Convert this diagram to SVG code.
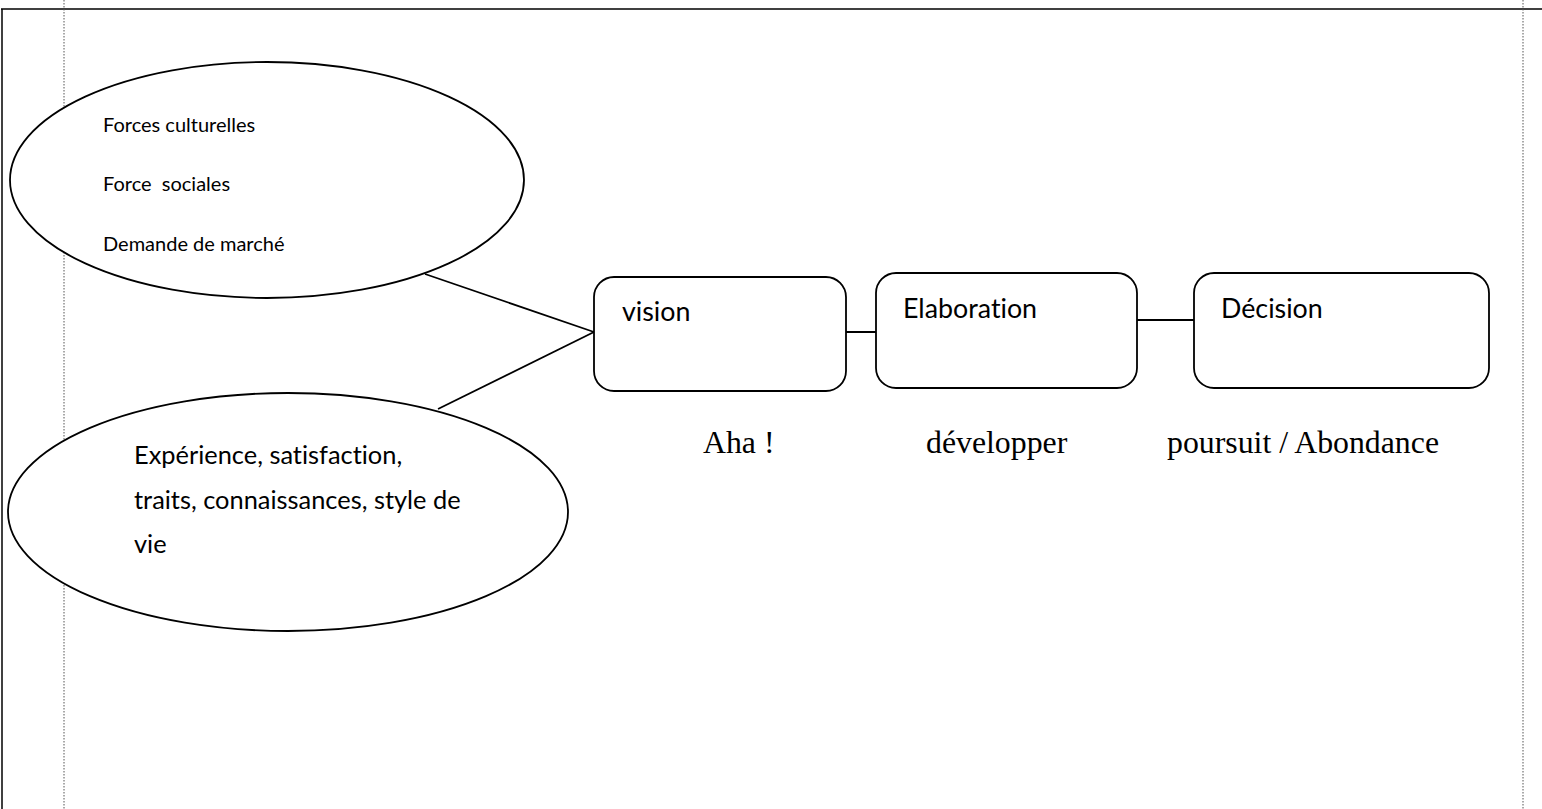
<svg xmlns="http://www.w3.org/2000/svg" width="1542" height="809" viewBox="0 0 1542 809">
  <style>
    .frame { stroke: #000; stroke-width: 1.5; fill: none; }
    .guide { stroke: #555; stroke-width: 1; stroke-dasharray: 1.5 1.5; fill: none; }
    .shape { stroke: #000; stroke-width: 1.8; fill: #fff; }
    .link { stroke: #000; stroke-width: 1.8; fill: none; }
    .sans { font-family: Lato, "Open Sans", "Liberation Sans", sans-serif; fill: #000; font-variant-ligatures: none; }
    .serif { font-family: "Liberation Serif", "Times New Roman", serif; fill: #000; font-size: 31.8px; }
  </style>

  <!-- page frame and margin guides -->
  <g id="page">
    <line class="frame" x1="1" y1="9" x2="1542" y2="9"/>
    <line class="frame" x1="2" y1="9" x2="2" y2="809"/>
    <line class="guide" x1="64" y1="0" x2="64" y2="809"/>
    <line class="guide" x1="1523" y1="0" x2="1523" y2="809"/>
  </g>

  <!-- connectors -->
  <g id="connectors">
    <line class="link" x1="425" y1="274" x2="594" y2="332"/>
    <line class="link" x1="438" y1="409" x2="594" y2="332"/>
    <line class="link" x1="841" y1="332" x2="876" y2="332"/>
    <line class="link" x1="1137" y1="320" x2="1194" y2="320"/>
  </g>

  <g id="forces">
    <ellipse class="shape" cx="267" cy="180" rx="257" ry="118"/>
    <text class="sans" font-size="20" x="103" y="132">Forces culturelles</text>
    <text class="sans" font-size="20" x="103" y="191" xml:space="preserve">Force  sociales</text>
    <text class="sans" font-size="20" x="103" y="251">Demande de marché</text>
  </g>

  <g id="experience">
    <ellipse class="shape" cx="288" cy="512" rx="280" ry="119"/>
    <text class="sans" font-size="25.4" x="134" y="463.5">Expérience, satisfaction,</text>
    <text class="sans" font-size="25.4" x="134" y="508.5">traits, connaissances, style de</text>
    <text class="sans" font-size="25.4" x="134" y="552.5">vie</text>
  </g>

  <g id="vision">
    <rect class="shape" x="594" y="277" width="252" height="114" rx="20"/>
    <text class="sans" font-size="26.8" x="622" y="321">vision</text>
  </g>

  <g id="elaboration">
    <rect class="shape" x="876" y="273" width="261" height="115" rx="20"/>
    <text class="sans" font-size="26.8" x="903" y="317.5">Elaboration</text>
  </g>

  <g id="decision">
    <rect class="shape" x="1194" y="273" width="295" height="115" rx="20"/>
    <text class="sans" font-size="26.8" x="1221" y="317.5">Décision</text>
  </g>

  <g id="stage-labels">
    <text class="serif" x="703" y="453">Aha !</text>
    <text class="serif" x="926" y="453">développer</text>
    <text class="serif" x="1167" y="453">poursuit / Abondance</text>
  </g>
</svg>
